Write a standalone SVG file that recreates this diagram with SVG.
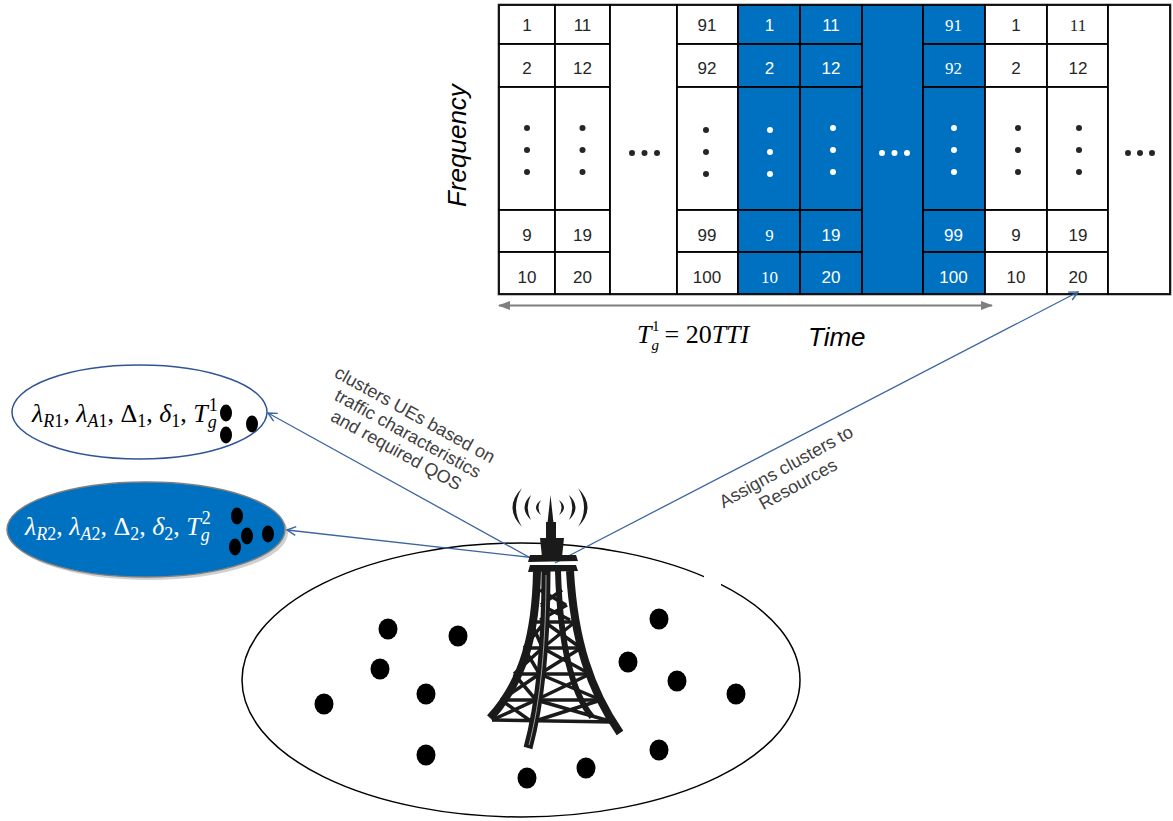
<svg xmlns="http://www.w3.org/2000/svg" width="1173" height="821" viewBox="0 0 1173 821">
  <defs>
    <style>
      .cell { stroke: #000; stroke-width: 1.8; }
      .w { fill: #fff; }
      .b { fill: #0070C0; }
      .num { font-family: "Liberation Sans", Arial, sans-serif; font-size: 17px; text-anchor: middle; fill: #262626; }
      .nw { fill: #fff; }
      .ser { font-family: "Liberation Serif", "Times New Roman", serif; }
      .dk { fill: #262626; }
      .dw { fill: #fff; }
      .lbl { font-family: "Liberation Sans", Arial, sans-serif; font-size: 18px; fill: #404040; text-anchor: middle; }
      .axis { font-family: "Liberation Sans", Arial, sans-serif; font-size: 26px; font-style: italic; fill: #000; }
      .m { font-family: "Liberation Serif", "Times New Roman", serif; font-size: 26px; font-style: italic; }
      .sb { font-size: 18px; }
      .up { font-style: normal; }
      .link { fill: none; stroke: #3A66A0; stroke-width: 1.3; }
      .ue { fill: #000; }
    </style>
    <marker id="ah" viewBox="0 0 10 10" refX="9" refY="5" markerWidth="11" markerHeight="11" markerUnits="userSpaceOnUse" orient="auto">
      <path d="M1,1 L9,5 L1,9" fill="none" stroke="#3A66A0" stroke-width="1.3"/>
    </marker>
    <marker id="gh" viewBox="0 0 12 10" refX="11" refY="5" markerWidth="12" markerHeight="10" markerUnits="userSpaceOnUse" orient="auto-start-reverse">
      <path d="M0,0.5 L12,5 L0,9.5 Z" fill="#7f7f7f"/>
    </marker>
  </defs>

  <rect width="1173" height="821" fill="#fff"/>

  <!-- resource grid: columns of resource blocks over time -->
  <g id="grid">
    <rect x="498" y="4" width="673" height="291" fill="none" stroke="#808080" stroke-width="1"/>
    <g id="col1">
      <rect class="cell w" x="499" y="5" width="56" height="39"/>
      <rect class="cell w" x="499" y="44" width="56" height="43"/>
      <rect class="cell w" x="499" y="87" width="56" height="123"/>
      <rect class="cell w" x="499" y="210" width="56" height="42"/>
      <rect class="cell w" x="499" y="252" width="56" height="42"/>
      <text class="num" x="527" y="31">1</text>
      <text class="num" x="527" y="74">2</text>
      <circle class="dk" cx="527" cy="128" r="3"/><circle class="dk" cx="527" cy="150" r="3"/><circle class="dk" cx="527" cy="172" r="3"/>
      <text class="num" x="527" y="241">9</text>
      <text class="num" x="527" y="283">10</text>
    </g>
    <g id="col2">
      <rect class="cell w" x="555" y="5" width="55" height="39"/>
      <rect class="cell w" x="555" y="44" width="55" height="43"/>
      <rect class="cell w" x="555" y="87" width="55" height="123"/>
      <rect class="cell w" x="555" y="210" width="55" height="42"/>
      <rect class="cell w" x="555" y="252" width="55" height="42"/>
      <text class="num" x="582.5" y="31">11</text>
      <text class="num" x="582.5" y="74">12</text>
      <circle class="dk" cx="582.5" cy="128" r="3"/><circle class="dk" cx="582.5" cy="150" r="3"/><circle class="dk" cx="582.5" cy="172" r="3"/>
      <text class="num" x="582.5" y="241">19</text>
      <text class="num" x="582.5" y="283">20</text>
    </g>
    <g id="col3">
      <rect class="cell w" x="610" y="5" width="67" height="289"/>
      <circle class="dk" cx="632" cy="153" r="3"/><circle class="dk" cx="644.5" cy="153" r="3"/><circle class="dk" cx="657" cy="153" r="3"/>
    </g>
    <g id="col4">
      <rect class="cell w" x="677" y="5" width="61" height="39"/>
      <rect class="cell w" x="677" y="44" width="61" height="43"/>
      <rect class="cell w" x="677" y="87" width="61" height="123"/>
      <rect class="cell w" x="677" y="210" width="61" height="42"/>
      <rect class="cell w" x="677" y="252" width="61" height="42"/>
      <text class="num" x="707" y="31">91</text>
      <text class="num" x="707" y="74">92</text>
      <circle class="dk" cx="706" cy="130" r="3"/><circle class="dk" cx="706" cy="152" r="3"/><circle class="dk" cx="706" cy="174" r="3"/>
      <text class="num" x="707" y="241">99</text>
      <text class="num" x="707" y="283">100</text>
    </g>
    <!-- blue: resources of cluster 2 -->
    <g id="col5">
      <rect class="cell b" x="738" y="5" width="62" height="39"/>
      <rect class="cell b" x="738" y="44" width="62" height="43"/>
      <rect class="cell b" x="738" y="87" width="62" height="123"/>
      <rect class="cell b" x="738" y="210" width="62" height="42"/>
      <rect class="cell b" x="738" y="252" width="62" height="42"/>
      <text class="num nw" x="769.5" y="31">1</text>
      <text class="num nw" x="769.5" y="74">2</text>
      <circle class="dw" cx="770" cy="130" r="3"/><circle class="dw" cx="770" cy="152" r="3"/><circle class="dw" cx="770" cy="174" r="3"/>
      <text class="num nw ser" x="769.5" y="241">9</text>
      <text class="num nw ser" x="769.5" y="283">10</text>
    </g>
    <g id="col6">
      <rect class="cell b" x="800" y="5" width="62" height="39"/>
      <rect class="cell b" x="800" y="44" width="62" height="43"/>
      <rect class="cell b" x="800" y="87" width="62" height="123"/>
      <rect class="cell b" x="800" y="210" width="62" height="42"/>
      <rect class="cell b" x="800" y="252" width="62" height="42"/>
      <text class="num nw" x="831" y="31">11</text>
      <text class="num nw" x="831" y="74">12</text>
      <circle class="dw" cx="833" cy="128" r="3"/><circle class="dw" cx="833" cy="150" r="3"/><circle class="dw" cx="833" cy="172" r="3"/>
      <text class="num nw" x="831" y="241">19</text>
      <text class="num nw" x="831" y="283">20</text>
    </g>
    <g id="col7">
      <rect class="cell b" x="862" y="5" width="61" height="289"/>
      <circle class="dw" cx="882" cy="153" r="3"/><circle class="dw" cx="894.5" cy="153" r="3"/><circle class="dw" cx="907" cy="153" r="3"/>
    </g>
    <g id="col8">
      <rect class="cell b" x="923" y="5" width="62" height="39"/>
      <rect class="cell b" x="923" y="44" width="62" height="43"/>
      <rect class="cell b" x="923" y="87" width="62" height="123"/>
      <rect class="cell b" x="923" y="210" width="62" height="42"/>
      <rect class="cell b" x="923" y="252" width="62" height="42"/>
      <text class="num nw ser" x="953.5" y="31">91</text>
      <text class="num nw ser" x="953.5" y="74">92</text>
      <circle class="dw" cx="954" cy="128" r="3"/><circle class="dw" cx="954" cy="150" r="3"/><circle class="dw" cx="954" cy="172" r="3"/>
      <text class="num nw" x="953.5" y="241">99</text>
      <text class="num nw" x="953.5" y="283">100</text>
    </g>
    <g id="col9">
      <rect class="cell w" x="985" y="5" width="62" height="39"/>
      <rect class="cell w" x="985" y="44" width="62" height="43"/>
      <rect class="cell w" x="985" y="87" width="62" height="123"/>
      <rect class="cell w" x="985" y="210" width="62" height="42"/>
      <rect class="cell w" x="985" y="252" width="62" height="42"/>
      <text class="num" x="1016" y="31">1</text>
      <text class="num" x="1016" y="74">2</text>
      <circle class="dk" cx="1018" cy="128" r="3"/><circle class="dk" cx="1018" cy="150" r="3"/><circle class="dk" cx="1018" cy="172" r="3"/>
      <text class="num" x="1016" y="241">9</text>
      <text class="num" x="1016" y="283">10</text>
    </g>
    <g id="col10">
      <rect class="cell w" x="1047" y="5" width="61" height="39"/>
      <rect class="cell w" x="1047" y="44" width="61" height="43"/>
      <rect class="cell w" x="1047" y="87" width="61" height="123"/>
      <rect class="cell w" x="1047" y="210" width="61" height="42"/>
      <rect class="cell w" x="1047" y="252" width="61" height="42"/>
      <text class="num ser" x="1078" y="31">11</text>
      <text class="num" x="1078" y="74">12</text>
      <circle class="dk" cx="1079" cy="128" r="3"/><circle class="dk" cx="1079" cy="150" r="3"/><circle class="dk" cx="1079" cy="172" r="3"/>
      <text class="num" x="1078" y="241">19</text>
      <text class="num" x="1078" y="283">20</text>
    </g>
    <g id="col11">
      <rect class="cell w" x="1108" y="5" width="62" height="289"/>
      <circle class="dk" cx="1128" cy="153" r="3"/><circle class="dk" cx="1140" cy="153" r="3"/><circle class="dk" cx="1152" cy="153" r="3"/>
    </g>
  </g>

  <!-- axes -->
  <g id="axes">
    <line x1="499" y1="305.5" x2="992" y2="305.5" stroke="#7f7f7f" stroke-width="2" marker-start="url(#gh)" marker-end="url(#gh)"/>
    <text class="axis" transform="translate(466,207) rotate(-90)">Frequency</text>
    <text class="axis" x="808" y="346">Time</text>
    <text class="m" x="637" y="343" font-size="22">T<tspan font-size="15" dy="7">g</tspan><tspan class="up" font-size="15" dx="-7" dy="-19">1</tspan><tspan class="up" dx="5" dy="12">= 20</tspan>TTI</text>
  </g>

  <!-- coverage area with user equipments -->
  <g id="cell-area">
    <ellipse cx="521" cy="680" rx="279" ry="137" fill="none" stroke="#000" stroke-width="1.5"/>
    <rect x="704" y="566" width="17" height="28" fill="#fff"/>
    <g id="ues">
      <ellipse class="ue" cx="388" cy="629" rx="9.5" ry="10.5"/>
      <ellipse class="ue" cx="458" cy="636" rx="9.5" ry="10.5"/>
      <ellipse class="ue" cx="380" cy="669" rx="9.5" ry="10.5"/>
      <ellipse class="ue" cx="426" cy="694" rx="9.5" ry="10.5"/>
      <ellipse class="ue" cx="324" cy="704" rx="9.5" ry="10.5"/>
      <ellipse class="ue" cx="426" cy="755" rx="9.5" ry="10.5"/>
      <ellipse class="ue" cx="527" cy="778" rx="9.5" ry="10.5"/>
      <ellipse class="ue" cx="586" cy="768" rx="9.5" ry="10.5"/>
      <ellipse class="ue" cx="659" cy="619" rx="9.5" ry="10.5"/>
      <ellipse class="ue" cx="628" cy="662" rx="9.5" ry="10.5"/>
      <ellipse class="ue" cx="677" cy="681" rx="9.5" ry="10.5"/>
      <ellipse class="ue" cx="736" cy="694" rx="9.5" ry="10.5"/>
      <ellipse class="ue" cx="659" cy="750" rx="9.5" ry="10.5"/>
    </g>
  </g>

  <!-- cluster 1 -->
  <g id="cluster1">
    <ellipse cx="139.5" cy="412" rx="127.5" ry="47" fill="#fff" stroke="#2F5597" stroke-width="1.5"/>
    <text class="m" x="32" y="422" fill="#000">λ<tspan class="sb" dy="5">R</tspan><tspan class="sb up">1</tspan><tspan class="up" dy="-5">, </tspan>λ<tspan class="sb" dy="5">A</tspan><tspan class="sb up">1</tspan><tspan class="up" dy="-5">, Δ</tspan><tspan class="sb up" dy="5">1</tspan><tspan class="up" dy="-5">, </tspan>δ<tspan class="sb up" dy="5">1</tspan><tspan class="up" dy="-5">, </tspan>T<tspan class="sb" dy="6">g</tspan><tspan class="sb up" dx="-8" dy="-17">1</tspan></text>
    <ellipse class="ue" cx="226" cy="413" rx="6" ry="8.5"/>
    <ellipse class="ue" cx="252" cy="424" rx="6" ry="8.5"/>
    <ellipse class="ue" cx="226" cy="435" rx="6" ry="8.5"/>
  </g>

  <!-- cluster 2 -->
  <g id="cluster2">
    <ellipse cx="149" cy="532.5" rx="139" ry="47.5" fill="#d0d0d0"/>
    <ellipse cx="146" cy="529.5" rx="139" ry="47.5" fill="#0070C0" stroke="#7f7f7f" stroke-width="1.5"/>
    <text class="m" x="25" y="535" fill="#fff">λ<tspan class="sb" dy="5">R</tspan><tspan class="sb up">2</tspan><tspan class="up" dy="-5">, </tspan>λ<tspan class="sb" dy="5">A</tspan><tspan class="sb up">2</tspan><tspan class="up" dy="-5">, Δ</tspan><tspan class="sb up" dy="5">2</tspan><tspan class="up" dy="-5">, </tspan>δ<tspan class="sb up" dy="5">2</tspan><tspan class="up" dy="-5">, </tspan>T<tspan class="sb" dy="6">g</tspan><tspan class="sb up" dx="-8" dy="-17">2</tspan></text>
    <ellipse class="ue" cx="237" cy="516" rx="6" ry="8.5"/>
    <ellipse class="ue" cx="247" cy="536" rx="6" ry="8.5"/>
    <ellipse class="ue" cx="235" cy="547" rx="6" ry="8.5"/>
    <ellipse class="ue" cx="268" cy="534" rx="6" ry="8.5"/>
  </g>

  <!-- connectors from the base station -->
  <g id="connectors">
    <line class="link" x1="536" y1="561" x2="268" y2="413" marker-end="url(#ah)"/>
    <line class="link" x1="536" y1="558" x2="287" y2="530" marker-end="url(#ah)"/>
    <line class="link" x1="555" y1="563" x2="1078" y2="292" marker-end="url(#ah)"/>
  </g>

  <!-- connector labels -->
  <g id="labels">
    <g transform="translate(412,420) rotate(29)">
      <text class="lbl" x="0" y="0">clusters UEs based on</text>
      <text class="lbl" x="3" y="20">traffic characteristics</text>
      <text class="lbl" x="1" y="40">and required QOS</text>
    </g>
    <g transform="translate(789,472) rotate(-29)">
      <text class="lbl" x="0" y="0">Assigns clusters to</text>
      <text class="lbl" x="2" y="21">Resources</text>
    </g>
  </g>

  <!-- base station tower -->
  <g id="tower">
    <g fill="#1a1a1a">
      <path d="M522,488 Q503,507.5 522,527 Q510,507.5 522,488 Z"/>
      <path d="M531,495 Q518,507.5 531,520 Q524.5,507.5 531,495 Z"/>
      <path d="M541,500 Q531,507.5 541,515 Q536,507.5 541,500 Z"/>
      <path d="M578,488 Q597,507.5 578,527 Q590,507.5 578,488 Z"/>
      <path d="M569,495 Q582,507.5 569,520 Q575.5,507.5 569,495 Z"/>
      <path d="M559,500 Q569,507.5 559,515 Q564,507.5 559,500 Z"/>
      <path d="M550.5,495 L553.5,523 L547.5,523 Z"/>
      <rect x="546" y="522" width="10" height="17"/>
      <path d="M540,538 L564,538 L562,557 L542,557 Z"/>
      <path d="M530,555 L576,555 L578,561 L528,562 Z"/>
      <path d="M530,565 L576,565 L578,571 L528,572 Z"/>
    </g>
    <g fill="none" stroke="#1a1a1a" stroke-linecap="butt">
      <path d="M537,571 C536,630 525,680 490,718" stroke-width="8"/>
      <path d="M558,571 C560,640 570,690 592,717" stroke-width="6"/>
      <path d="M570,571 C574,640 590,690 620,733" stroke-width="8"/>
      <path d="M546,571 C546,640 541,700 528,748" stroke-width="9"/>
      <g stroke-width="3.5">
        <path d="M531,622 L575,622 M524,648 L581,648 M514,674 L590,674 M501,700 L601,700 M492,720 L613,722"/>
        <path d="M531,622 L542.5,648 M544.5,622 L524,648 M524,648 L539.5,674 M542.5,648 L514,674 M514,674 L536,700 M539.5,674 L501,700 M501,700 L532,722 M536,700 L492,720"/>
        <path d="M544.5,622 L581,648 M575,622 L542.5,648 M542.5,648 L590,674 M581,648 L539.5,674 M539.5,674 L601,700 M590,674 L536,700 M536,700 L613,722 M601,700 L532,722"/>
        <path d="M540,590 L566,605 M562,590 L541,605 M541,605 L570,620 M567,605 L540,620"/>
      </g>
      <path d="M546,575 C546,640 541,700 529,745" stroke="#bfbfbf" stroke-width="0.8"/>
    </g>
  </g>
</svg>
